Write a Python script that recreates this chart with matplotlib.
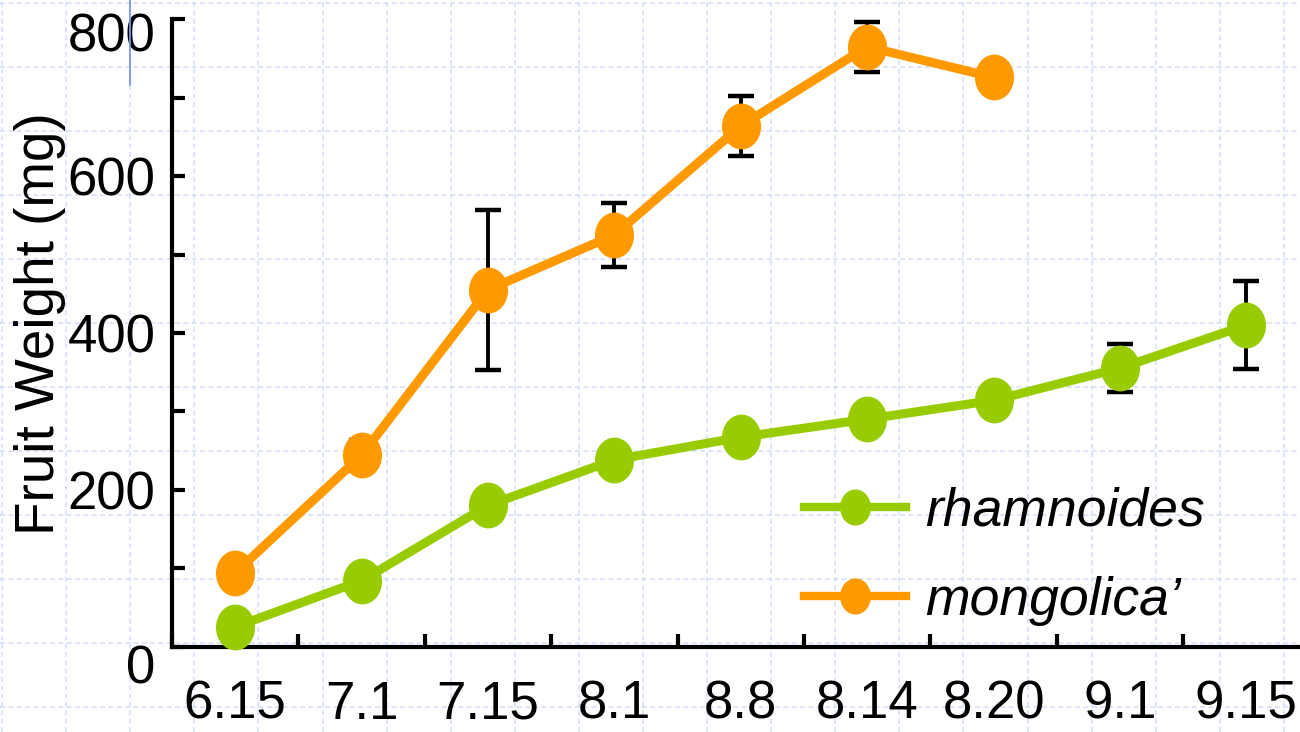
import numpy as np
import matplotlib
matplotlib.use("Agg")
import matplotlib.pyplot as plt
from matplotlib.path import Path
from matplotlib.transforms import Affine2D, ScaledTranslation
from matplotlib.lines import Line2D

plt.rcParams['font.family'] = ['Liberation Sans', 'DejaVu Sans']

dates = ["6.15", "7.1", "7.15", "8.1", "8.8", "8.14", "8.20", "9.1", "9.15"]

# rhamnoides (green)
rham = [25, 84, 180, 238, 267, 290, 314, 355, 410]
rham_err = [0, 0, 0, 0, 0, 0, 0, 31, 56]

# mongolica' (orange), no data after 8.20
mong = [94, 244, 455, 525, 664, 765, 726]
mong_err = [0, 19, 102, 41, 38, 32, 0]

GREEN = "#99cc00"
ORANGE = "#ff9900"

# tall ellipse marker
ellipse = Path.unit_circle().transformed(Affine2D().scale(1.0, 1.18))

W, H = 1300, 732
fig = plt.figure(figsize=(13, 7.32), dpi=100)

# page grid in the background
for gx in np.arange(2, W, 64.1):
    fig.add_artist(Line2D([gx / W, gx / W], [0, 1], transform=fig.transFigure,
                          color="#d6e0fa", lw=1.2, ls=(0, (3, 2)), zorder=0))
for gy in np.arange(2.7, H, 64.0):
    fig.add_artist(Line2D([0, 1], [1 - gy / H, 1 - gy / H], transform=fig.transFigure,
                          color="#d6e0fa", lw=1.2, ls=(0, (3, 2)), zorder=0))
fig.add_artist(Line2D([130 / W, 130 / W], [1, 1 - 85 / H], transform=fig.transFigure,
                      color="#7b96e8", lw=1.3, zorder=1))

left, bottom = 172 / W, (H - 646.5) / H
ax = fig.add_axes([left, bottom, 9 * 126.4 / W, (646.5 - 19.3) / H])
ax.patch.set_alpha(0)

x_r = np.arange(len(rham))
x_m = np.arange(len(mong))

ax.errorbar(x_m, mong, yerr=mong_err, fmt="none", ecolor="black",
            elinewidth=2.8, capsize=9.5, capthick=3.2, zorder=2)
ax.errorbar(x_r, rham, yerr=rham_err, fmt="none", ecolor="black",
            elinewidth=2.8, capsize=9.5, capthick=3.2, zorder=2)
ax.plot(x_r, rham, color=GREEN, lw=6.5, marker=ellipse, ms=32,
        label="rhamnoides", zorder=3, clip_on=False)
ax.plot(x_m, mong, color=ORANGE, lw=6.5, marker=ellipse, ms=32,
        label="mongolica\u2019", zorder=3, clip_on=False)

ax.set_xlim(-0.5, 8.5)
ax.set_ylim(0, 800)

for s in ["top", "right"]:
    ax.spines[s].set_visible(False)
for s in ["left", "bottom"]:
    ax.spines[s].set_linewidth(3)

ax.set_yticks([0, 200, 400, 600, 800])
ax.set_yticks([100, 300, 500, 700], minor=True)
ax.tick_params(axis="y", which="both", direction="in", length=9.5, width=3,
               labelsize=38, pad=12)

ax.set_xticks(np.arange(len(dates)) - 0.5)
ax.set_xticklabels([])
ax.set_xticks(np.arange(len(dates)), minor=True)
ax.set_xticklabels(dates, minor=True)
ax.tick_params(axis="x", which="major", direction="in", length=9.5, width=3)
ax.tick_params(axis="x", which="minor", length=0, labelsize=38, pad=24)

# the 0 and 800 labels sit a bit lower than their ticks
for lab in ax.get_yticklabels():
    if lab.get_text() in ("0", "800"):
        dy = -17 if lab.get_text() == "0" else -13
        lab.set_transform(lab.get_transform() + ScaledTranslation(0, dy / 100, fig.dpi_scale_trans))

fig.text(40 / W, 1 - 324 / H, "Fruit Weight (mg)", rotation=90, fontsize=39.5,
         ha="center", va="center")

leg = ax.legend(loc="upper left", bbox_to_anchor=(804 / W, 1 - 487 / H),
                bbox_transform=fig.transFigure, frameon=False,
                prop={"style": "italic", "size": 38.5}, handlelength=1.9,
                handletextpad=0.37, labelspacing=0.72, borderpad=0, borderaxespad=0)
for ln in leg.get_lines():
    ln.set_markersize(25)
    ln.set_linewidth(6)

fig.savefig("out.png", dpi=100)
